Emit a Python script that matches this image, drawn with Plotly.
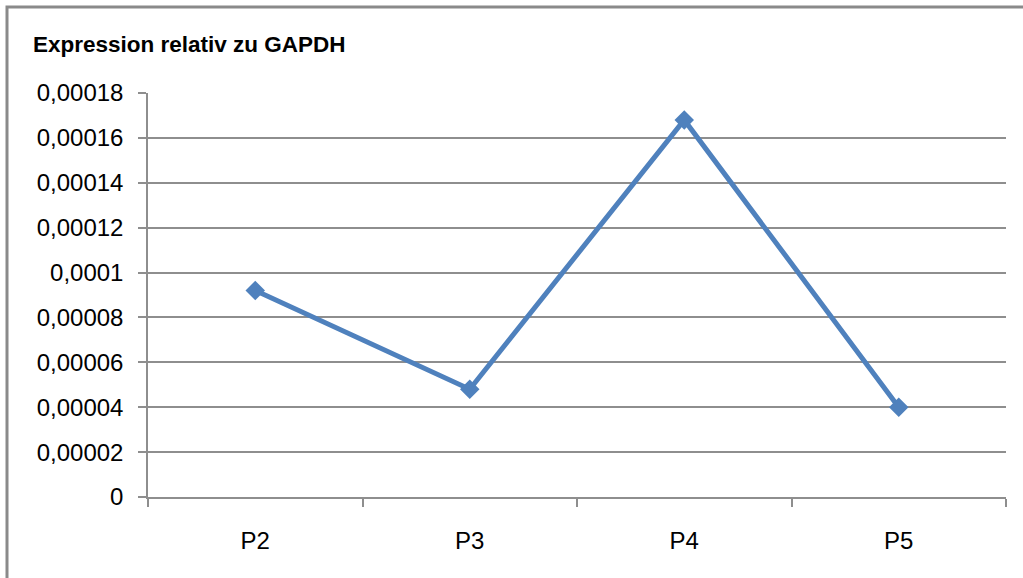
import plotly.graph_objects as go

# Relative expression (normalised to GAPDH) per passage
categories = ["P2", "P3", "P4", "P5"]
expression = [0.000092, 0.000048, 0.000168, 0.000040]

# Value axis ticks with German decimal comma
y_tick_values = [0, 0.00002, 0.00004, 0.00006, 0.00008, 0.0001,
                 0.00012, 0.00014, 0.00016, 0.00018]
y_tick_labels = ["0", "0,00002", "0,00004", "0,00006", "0,00008", "0,0001",
                 "0,00012", "0,00014", "0,00016", "0,00018"]

W, H = 1023, 578
ML, MR, MT, MB = 148, 17, 93, 81
plot_w = W - ML - MR
plot_h = H - MT - MB

BLUE = "#4F81BD"
GRID = "#8E8E8E"
FONT = "Liberation Sans, Arial, sans-serif"

fig = go.Figure()
fig.add_trace(go.Scatter(
    x=categories,
    y=expression,
    mode="lines+markers",
    line=dict(color=BLUE, width=5),
    marker=dict(symbol="diamond", size=15, color=BLUE),
    hoverinfo="x+y",
    showlegend=False,
))


def px_x(px):
    return (px - ML) / plot_w


def px_y(py):
    return (H - MB - py) / plot_h


fig.update_layout(
    width=W,
    height=H,
    margin=dict(l=ML, r=MR, t=MT, b=MB),
    paper_bgcolor="white",
    plot_bgcolor="white",
    font=dict(family=FONT, size=24, color="#000000"),
    title=dict(
        text="<b>Expression relativ zu GAPDH</b>",
        x=33 / W, xanchor="left",
        y=1 - 44 / H, yanchor="middle",
        font=dict(family=FONT, size=22.5, color="#000000"),
    ),
    xaxis=dict(
        type="category",
        range=[-0.5, 3.5],
        tickson="boundaries",
        ticks="outside",
        ticklen=8,
        tickwidth=1.5,
        tickcolor=GRID,
        showline=True,
        linecolor=GRID,
        linewidth=1.5,
        showgrid=False,
        zeroline=False,
        ticklabelstandoff=21,
        tickfont=dict(family=FONT, size=24, color="#000000"),
    ),
    yaxis=dict(
        range=[0, 0.00018],
        tickvals=y_tick_values,
        ticktext=y_tick_labels,
        ticks="outside",
        ticklen=8,
        tickwidth=1.5,
        tickcolor=GRID,
        showline=True,
        linecolor=GRID,
        linewidth=1.5,
        showgrid=True,
        gridcolor=GRID,
        gridwidth=1.5,
        zeroline=False,
        ticklabelstandoff=10,
        tickfont=dict(family=FONT, size=24, color="#000000"),
    ),
    shapes=[
        # outer chart frame (right and bottom edges run past the page)
        dict(
            type="rect", xref="paper", yref="paper",
            x0=px_x(7), x1=px_x(1060),
            y0=px_y(620), y1=px_y(7),
            line=dict(color="#8A8A8A", width=3),
            fillcolor="rgba(0,0,0,0)",
            layer="below",
        ),
    ],
)

fig.write_html("out.html")
